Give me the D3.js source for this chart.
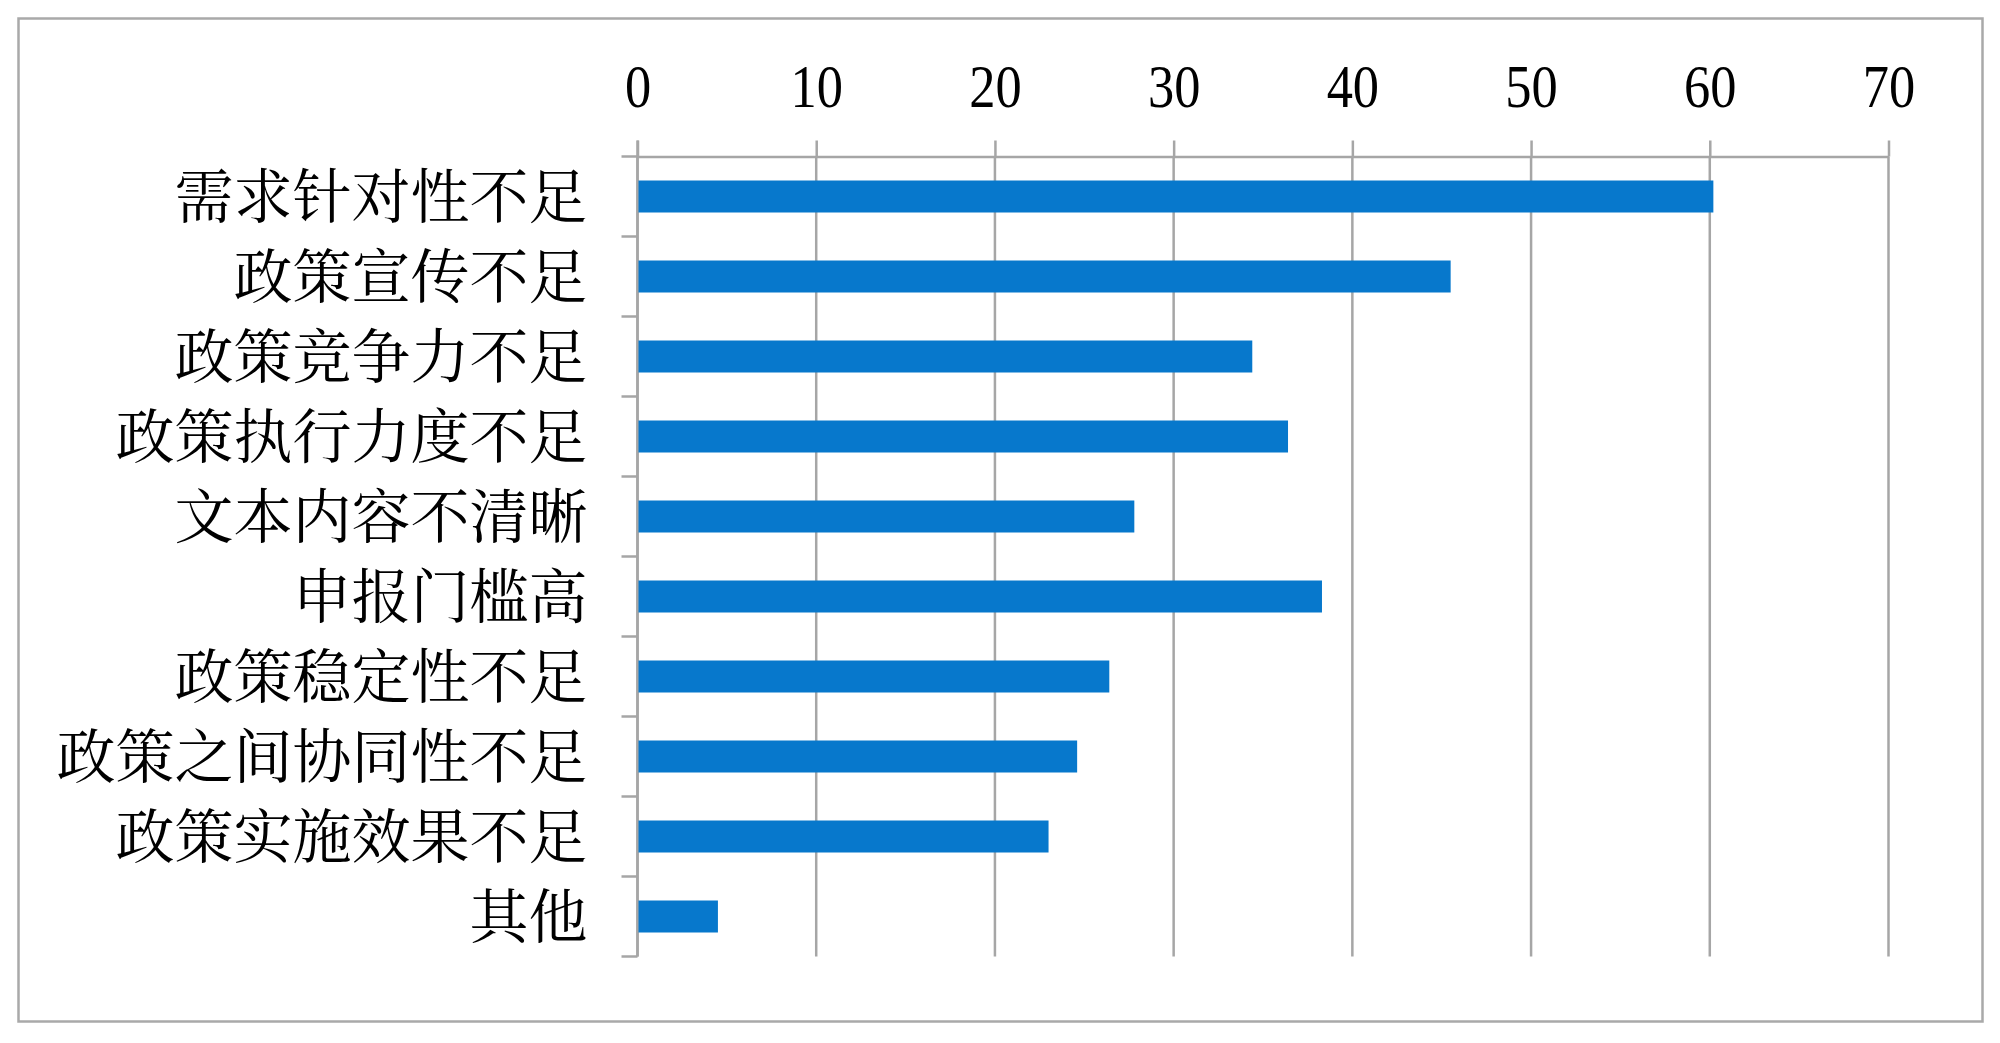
<!DOCTYPE html>
<html>
<head>
<meta charset="utf-8">
<script src="https://cdn.jsdelivr.net/npm/d3@7"></script>
<style>
  html, body { margin: 0; padding: 0; background: #fff; }
  svg { display: block; }
  .num { font-family: "Liberation Serif", "Times New Roman", serif; }
  .cat { font-family: "Liberation Serif", "Noto Serif CJK SC", "Noto Sans CJK SC", serif; }
</style>
</head>
<body>
<svg id="chart" width="2000" height="1043"></svg>
<script>
const categories = [
  "需求针对性不足",
  "政策宣传不足",
  "政策竞争力不足",
  "政策执行力度不足",
  "文本内容不清晰",
  "申报门槛高",
  "政策稳定性不足",
  "政策之间协同性不足",
  "政策实施效果不足",
  "其他"
];
const values = [60.2, 45.5, 34.4, 36.4, 27.8, 38.3, 26.4, 24.6, 23.0, 4.5];
const xTicks = [0, 10, 20, 30, 40, 50, 60, 70];

const svg = d3.select("#chart");
const gridColor = "#a6a6a6";

// outer border
svg.append("rect")
  .attr("x", 18.5).attr("y", 18.5)
  .attr("width", 1964).attr("height", 1003)
  .attr("fill", "#fff")
  .attr("stroke", "#a9a9a9")
  .attr("stroke-width", 2.5);

const x = d3.scaleLinear().domain([0, 70]).range([637.5, 1888.5]);
const y = d3.scaleBand().domain(categories).range([156.5, 956.5])
  .paddingInner(0.6).paddingOuter(0.3);

// gridlines
svg.append("g").selectAll("line").data(xTicks).join("line")
  .attr("x1", d => x(d)).attr("x2", d => x(d))
  .attr("y1", y.range()[0]).attr("y2", y.range()[1])
  .attr("stroke", gridColor).attr("stroke-width", 2.5);

// top axis
const xAxis = d3.axisTop(x).tickValues(xTicks).tickSize(16).tickSizeOuter(0).tickPadding(34)
  .tickFormat(d3.format("d"));
const gx = svg.append("g").attr("transform", `translate(0,${y.range()[0]})`).call(xAxis);
gx.select(".domain").attr("stroke", gridColor).attr("stroke-width", 2.5);
gx.selectAll(".tick line").attr("stroke", gridColor).attr("stroke-width", 2.5);
gx.selectAll(".tick text")
  .attr("class", "num")
  .attr("fill", "#000")
  .style("font-size", "61px")
  .attr("transform", "scale(0.86,1)");

// left axis: labels
const yAxis = d3.axisLeft(y).tickSize(0).tickPadding(50);
const gy = svg.append("g").attr("transform", `translate(${x(0)},0)`).call(yAxis);
gy.select(".domain").remove();
gy.selectAll(".tick text")
  .attr("class", "cat")
  .attr("fill", "#000")
  .attr("dy", "0.36em")
  .style("font-size", "59px");

// left boundary ticks
const step = (y.range()[1] - y.range()[0]) / categories.length;
svg.append("g").selectAll("line").data(d3.range(categories.length + 1)).join("line")
  .attr("x1", x(0) - 16).attr("x2", x(0))
  .attr("y1", i => y.range()[0] + i * step)
  .attr("y2", i => y.range()[0] + i * step)
  .attr("stroke", gridColor).attr("stroke-width", 2.5);

// vertical axis line
svg.append("line")
  .attr("x1", x(0)).attr("x2", x(0))
  .attr("y1", y.range()[0] - 16).attr("y2", y.range()[1])
  .attr("stroke", gridColor).attr("stroke-width", 2.5);

// bars
svg.append("g").selectAll("rect").data(categories).join("rect")
  .attr("x", x(0) + 1)
  .attr("y", d => y(d))
  .attr("width", (d, i) => x(values[i]) - x(0) - 1)
  .attr("height", y.bandwidth())
  .attr("fill", "#0778cc");
</script>
</body>
</html>
